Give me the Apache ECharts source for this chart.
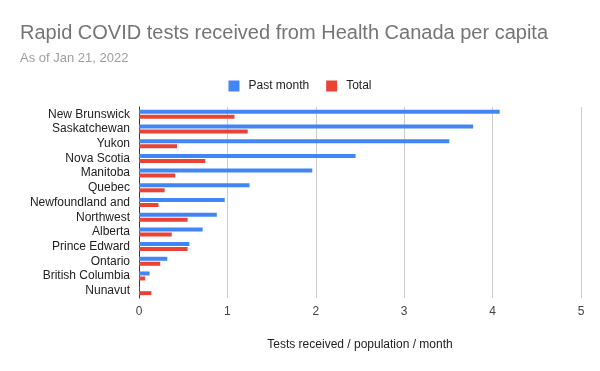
<!DOCTYPE html>
<html><head><meta charset="utf-8">
<script src="https://cdn.jsdelivr.net/npm/echarts@6/dist/echarts.min.js"></script>
<style>html,body{margin:0;padding:0;background:#fff}#c{width:600px;height:371px}</style>
</head><body><div id="c"></div>
<script>
const categories = ["New Brunswick","Saskatchewan","Yukon","Nova Scotia","Manitoba","Quebec","Newfoundland and","Northwest","Alberta","Prince Edward","Ontario","British Columbia","Nunavut"];
const pastMonth = [4.08,3.78,3.51,2.45,1.96,1.25,0.97,0.88,0.72,0.57,0.32,0.12,0.005];
const total = [1.08,1.23,0.43,0.75,0.41,0.29,0.22,0.55,0.37,0.55,0.24,0.07,0.14];
const xTicks = [0,1,2,3,4,5];
const F = "'Liberation Sans', Arial, sans-serif";
const chart = echarts.init(document.getElementById('c'));
chart.setOption({
  animation:false,
  textStyle:{fontFamily:F},
  title:{text:"Rapid COVID tests received from Health Canada per capita",subtext:"As of Jan 21, 2022",left:15,top:18,itemGap:9,
    textStyle:{fontFamily:F,fontSize:20,fontWeight:'normal',color:'#757575'},
    subtextStyle:{fontFamily:F,fontSize:13,color:'#9e9e9e'}},
  legend:{top:75,left:'center',itemWidth:11,itemHeight:11,itemGap:17,icon:'rect',
    textStyle:{fontFamily:F,fontSize:12,color:'#222',padding:[0,0,0,4]},data:["Past month","Total"]},
  grid:{left:139,right:19,top:107,bottom:73,containLabel:false},
  xAxis:{type:'value',min:xTicks[0],max:xTicks[xTicks.length-1],interval:1,
    name:"Tests received / population / month",nameLocation:'middle',nameGap:41,
    nameTextStyle:{fontFamily:F,fontSize:12,color:'#222'},
    axisLine:{show:false},axisTick:{show:false},
    axisLabel:{fontFamily:F,fontSize:12,color:'#444',margin:8},
    splitLine:{lineStyle:{color:'#cccccc'}}},
  yAxis:{type:'category',data:categories,inverse:true,
    axisLine:{lineStyle:{color:'#333',width:1}},axisTick:{show:false},
    axisLabel:{fontFamily:F,fontSize:12,color:'#222',margin:9,interval:0}},
  series:[
    {name:"Past month",type:'bar',data:pastMonth,barWidth:4,barGap:'25%',itemStyle:{color:'#4285f4'}},
    {name:"Total",type:'bar',data:total,barWidth:4,itemStyle:{color:'#ea4335'}}
  ]
});
</script></body></html>
